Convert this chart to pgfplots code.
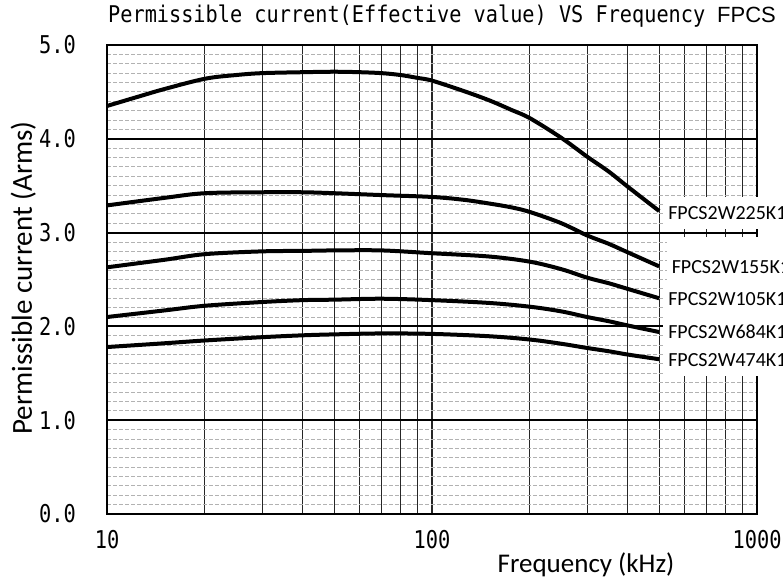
\documentclass[border=0pt]{standalone}
\usepackage{fontspec}
\setmainfont{Carlito}
\newfontfamily\gothic[FakeStretch=0.83]{DejaVu Sans Mono}
\newfontfamily\gothict[FakeStretch=0.88]{DejaVu Sans Mono}
\newfontfamily\lsans{Liberation Sans}
\usepackage{pgfplots}
\pgfplotsset{compat=1.18}
\begin{document}
\begin{tikzpicture}
\begin{axis}[
  at={(0,0)}, anchor=south west,
  xmode=log, xmin=10, xmax=1000, ymin=0, ymax=5,
  width=650pt, height=469pt, scale only axis,
  xtick={10,100,1000}, xticklabels={10,100,1000},
  ytick={0,1,2,3,4,5}, yticklabels={0.0,1.0,2.0,3.0,4.0,5.0},
  minor y tick num=9,
  grid=both,
  major x grid style={black!85, line width=1.1pt},
  minor x grid style={black!85, line width=1.1pt},
  major y grid style={black, line width=2pt},
  minor y grid style={black!30, line width=0.9pt, dash pattern=on 4pt off 2pt},
  tick style={draw=none},
  major tick length=0pt, minor tick length=0pt,
  axis line style={black, line width=2pt},
  xticklabel style={font=\gothic\fontsize{24.5}{24.5}\selectfont, inner sep=0pt, anchor=north, yshift=-16pt},
  yticklabel style={font=\gothic\fontsize{24.5}{24.5}\selectfont, inner sep=0pt, anchor=east, xshift=-31pt},
  clip=false,
]
\addplot[black, line width=4pt, smooth, tension=0.55] coordinates {
 (10,4.35) (12.5,4.45) (15,4.53) (20,4.64) (25,4.68) (30,4.70) (40,4.71) (50,4.715) (60,4.71) (70,4.70) (80,4.68) (90,4.65) (100,4.62) (125,4.51) (150,4.41) (175,4.31) (200,4.22) (250,4.01) (300,3.81) (350,3.65) (400,3.49) (500,3.23)};
\addplot[black, line width=4pt, smooth, tension=0.55] coordinates {
 (10,3.29) (15,3.37) (20,3.42) (30,3.43) (40,3.43) (50,3.42) (70,3.40) (100,3.38) (125,3.35) (150,3.31) (175,3.27) (200,3.22) (250,3.10) (300,2.97) (350,2.88) (400,2.79) (500,2.64)};
\addplot[black, line width=4pt, smooth, tension=0.55] coordinates {
 (10,2.63) (15,2.71) (20,2.77) (30,2.80) (40,2.805) (50,2.81) (70,2.81) (100,2.78) (150,2.745) (200,2.69) (250,2.61) (300,2.52) (350,2.46) (400,2.40) (500,2.30)};
\addplot[black, line width=4pt, smooth, tension=0.55] coordinates {
 (10,2.10) (15,2.17) (20,2.22) (30,2.26) (40,2.28) (50,2.285) (70,2.295) (100,2.28) (150,2.25) (200,2.21) (250,2.16) (300,2.10) (350,2.055) (400,2.01) (500,1.94)};
\addplot[black, line width=4pt, smooth, tension=0.55] coordinates {
 (10,1.78) (15,1.82) (20,1.85) (30,1.885) (40,1.905) (50,1.915) (70,1.925) (100,1.92) (150,1.895) (200,1.86) (250,1.815) (300,1.77) (350,1.735) (400,1.70) (500,1.65)};
\tikzset{lbl/.style={anchor=base west, fill=white, inner xsep=5pt, inner ysep=9.5pt, font=\fontsize{20}{20}\selectfont}}
\node[lbl] at (axis cs:514,3.145) {FPCS2W225K1};
\node[lbl, text height=27pt] at (axis cs:527,2.559) {FPCS2W155K1};
\node[lbl] at (axis cs:514,2.221) {FPCS2W105K1};
\node[lbl] at (axis cs:514,1.873) {FPCS2W684K1};
\node[lbl] at (axis cs:514,1.570) {FPCS2W474K1};
\end{axis}
\node[anchor=base west, inner sep=0pt] at (1pt,491pt) {\gothict\fontsize{23}{23}\selectfont Permissible current(Effective value) VS Frequency};
\node[anchor=base west, inner sep=0pt] at (610pt,491pt) {\lsans\fontsize{22}{22}\selectfont FPCS};
\node[anchor=base, inner sep=0pt] at (479pt,-58pt) {\fontsize{27}{27}\selectfont Frequency (kHz)};
\node[anchor=base, inner sep=0pt, rotate=90] at (-75pt,236pt) {\fontsize{29}{29}\selectfont Permissible current (Arms)};
\pgfresetboundingbox
\path[use as bounding box] (-107pt,-67pt) rectangle (676pt,514pt);
\end{tikzpicture}
\end{document}
